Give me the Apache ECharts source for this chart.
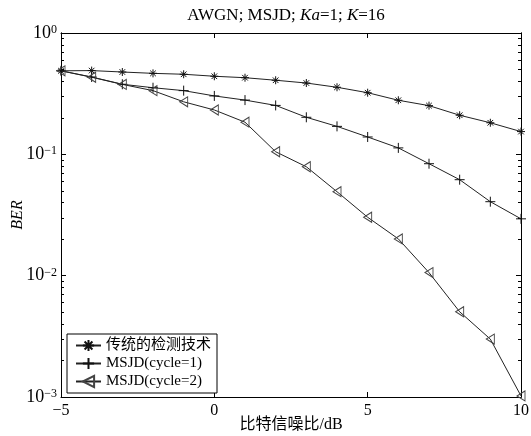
<!DOCTYPE html>
<html>
<head>
<meta charset="utf-8">
<script src="https://cdn.jsdelivr.net/npm/echarts@6/dist/echarts.min.js"></script>
<style>
html,body{margin:0;padding:0;background:#fff;}
#chart{width:531px;height:436px;}
</style>
</head>
<body>
<div id="chart"></div>
<script>
// ---- data ----
const snr = [-5, -4, -3, -2, -1, 0, 1, 2, 3, 4, 5, 6, 7, 8, 9, 10];
const seriesNames = ['传统的检测技术', 'MSJD(cycle=1)', 'MSJD(cycle=2)'];
const berTraditional = [0.488, 0.49, 0.477, 0.465, 0.457, 0.44, 0.428, 0.408, 0.387, 0.357, 0.322, 0.279, 0.252, 0.210, 0.182, 0.154];
const berCycle1 = [0.488, 0.434, 0.378, 0.354, 0.335, 0.303, 0.280, 0.253, 0.202, 0.170, 0.139, 0.113, 0.0837, 0.0618, 0.0407, 0.0294];
const berCycle2 = [0.488, 0.432, 0.377, 0.335, 0.271, 0.232, 0.184, 0.105, 0.079, 0.0492, 0.0303, 0.0201, 0.0106, 0.00504, 0.0030, 0.00102];
const xTicks = [-5, 0, 5, 10];
const yMajorTicks = [0.001, 0.01, 0.1, 1];
const yMinorTicks = [];
[0.001, 0.01, 0.1].forEach(function (d) { for (let m = 2; m <= 9; m++) yMinorTicks.push(d * m); });
// minor tick positions expressed as decade exponents for a linear helper axis
const yMinorExp = yMinorTicks.map(v => Math.log10(v));

const pairs = arr => snr.map((x, i) => [x, arr[i]]);

const serif = "'Liberation Serif','Times New Roman','DejaVu Serif','Noto Sans CJK SC',serif";
const black = '#000';
const lineCol = '#222';

function yLabel(v) {
  const e = Math.round(Math.log10(v));
  return '{b|10}{e|' + (e < 0 ? '\u2212' + (-e) : String(e)) + '}';
}

const chart = echarts.init(document.getElementById('chart'), null, {renderer: 'canvas'});

const axisLineStyle = {show: true, onZero: false, lineStyle: {color: black, width: 1}};

function minorAxis(pos) {
  return {
    type: 'value', min: -3, max: 0, position: pos,
    axisLine: {show: true, onZero: false, lineStyle: {color: black, width: 1}},
    axisTick: {show: true, inside: true, length: 3, customValues: yMinorExp, lineStyle: {color: black, width: 1}},
    splitLine: {show: false},
    axisLabel: {show: false}
  };
}

const option = {
  backgroundColor: '#fff',
  animation: false,
  title: {
    text: '{n|AWGN; MSJD; }{i|Ka}{n|=1; }{i|K}{n|=16}',
    left: 286,
    textAlign: 'center',
    top: 2,
    padding: [5, 0, 5, 0],
    textStyle: {
      fontWeight: 'normal',
      rich: {
        n: {fontFamily: serif, fontSize: 17, fontWeight: 'normal', color: black},
        i: {fontFamily: serif, fontSize: 17, fontWeight: 'normal', fontStyle: 'italic', color: black}
      }
    }
  },
  grid: {left: 61, right: 10, top: 33, bottom: 39, containLabel: false, outerBoundsMode: 'none'},
  legend: {
    orient: 'vertical',
    left: 67,
    top: 334,
    padding: [4, 6, 4, 8],
    itemGap: 3,
    itemWidth: 25,
    itemHeight: 14,
    borderColor: black,
    borderWidth: 1,
    backgroundColor: '#fff',
    textStyle: {fontFamily: serif, fontSize: 15, color: black},
    data: seriesNames
  },
  xAxis: [
    {
      type: 'value', min: -5, max: 10, interval: 5, position: 'bottom',
      axisLine: axisLineStyle,
      axisTick: {show: true, inside: true, length: 5, lineStyle: {color: black}},
      splitLine: {show: false},
      axisLabel: {
        fontFamily: serif, fontSize: 16, color: black, margin: 6,
        formatter: v => (v < 0 ? '\u2212' + (-v) : String(v))
      },
      name: '比特信噪比/dB',
      nameLocation: 'middle',
      nameGap: 20,
      nameMoveOverlap: false,
      nameTextStyle: {fontFamily: serif, fontSize: 16, color: black}
    },
    {
      type: 'value', min: -5, max: 10, interval: 5, position: 'top',
      axisLine: axisLineStyle,
      axisTick: {show: true, inside: true, length: 5, lineStyle: {color: black}},
      splitLine: {show: false},
      axisLabel: {show: false}
    }
  ],
  yAxis: [
    {
      type: 'log', logBase: 10, min: 0.001, max: 1, position: 'left',
      axisLine: axisLineStyle,
      axisTick: {show: true, inside: true, length: 5, lineStyle: {color: black}},
      splitLine: {show: false},
      minorTick: {show: false},
      axisLabel: {
        margin: 4,
        formatter: yLabel,
        rich: {
          b: {fontFamily: serif, fontSize: 18, color: black, verticalAlign: 'bottom'},
          e: {fontFamily: serif, fontSize: 12, color: black, verticalAlign: 'top'}
        }
      },
      name: 'BER',
      nameLocation: 'middle',
      nameGap: 35,
      nameMoveOverlap: false,
      nameRotate: 90,
      nameTextStyle: {fontFamily: serif, fontSize: 16, fontStyle: 'italic', color: black}
    },
    minorAxis('left'),
    {
      type: 'log', logBase: 10, min: 0.001, max: 1, position: 'right',
      axisLine: axisLineStyle,
      axisTick: {show: true, inside: true, length: 5, lineStyle: {color: black}},
      splitLine: {show: false},
      axisLabel: {show: false}
    },
    minorAxis('right')
  ],
  series: [
    {
      name: seriesNames[0], type: 'line', data: pairs(berTraditional),
      symbol: 'path://M5,0L5,10M0,5L10,5M1.5,1.5L8.5,8.5M1.5,8.5L8.5,1.5',
      symbolSize: 8,
      lineStyle: {color: lineCol, width: 1},
      itemStyle: {color: '#111', borderColor: '#111', borderWidth: 1},
      emphasis: {disabled: true}
    },
    {
      name: seriesNames[1], type: 'line', data: pairs(berCycle1),
      symbol: 'path://M5,0L5,10M0,5L10,5',
      symbolSize: 10,
      lineStyle: {color: lineCol, width: 1},
      itemStyle: {color: '#111', borderColor: '#111', borderWidth: 1},
      emphasis: {disabled: true}
    },
    {
      name: seriesNames[2], type: 'line', data: pairs(berCycle2),
      symbol: 'path://M0,5L8,0L8,10Z',
      symbolSize: [8, 10],
      lineStyle: {color: lineCol, width: 1},
      itemStyle: {color: 'rgba(255,255,255,0)', borderColor: '#444', borderWidth: 1},
      emphasis: {disabled: true}
    }
  ]
};
chart.setOption(option);
</script>
</body>
</html>
